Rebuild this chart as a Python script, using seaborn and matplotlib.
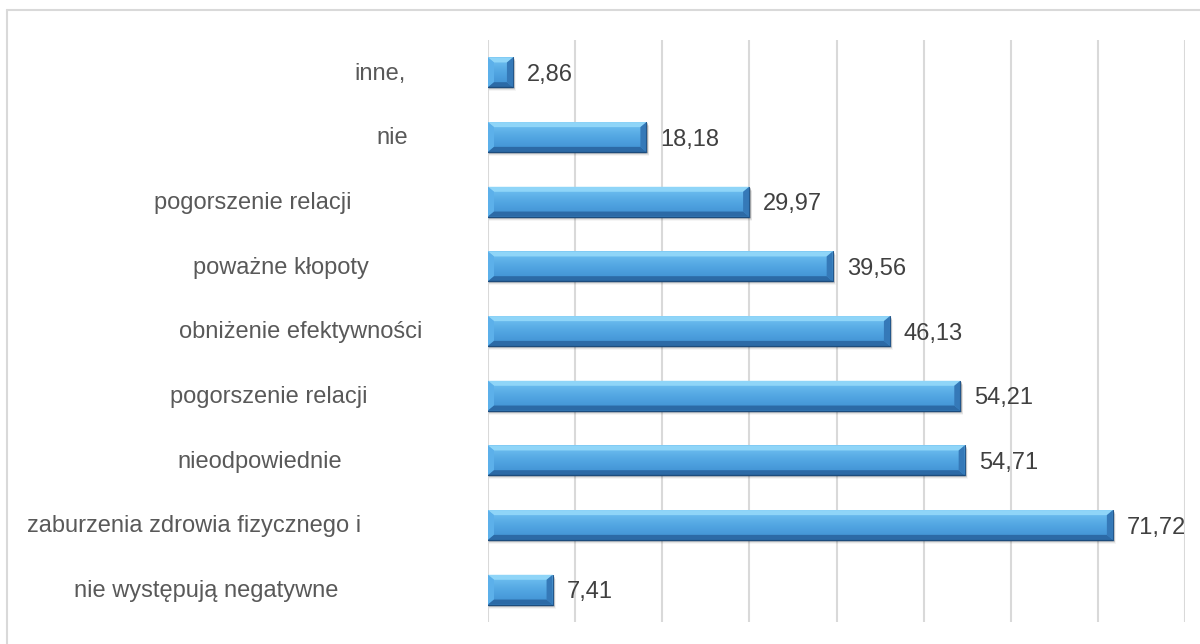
import numpy as np
import pandas as pd
import matplotlib
matplotlib.use("Agg")
import matplotlib.pyplot as plt
import matplotlib.transforms as mtransforms
from matplotlib.patches import Polygon, Rectangle
from matplotlib.lines import Line2D
import seaborn as sns

# Categories, top to bottom
categories = [
    "inne,",
    "nie",
    "pogorszenie relacji",
    "poważne kłopoty",
    "obniżenie efektywności",
    "pogorszenie relacji",
    "nieodpowiednie",
    "zaburzenia zdrowia fizycznego i",
    "nie występują negatywne",
]
values = [2.86, 18.18, 29.97, 39.56, 46.13, 54.21, 54.71, 71.72, 7.41]
value_labels = ["2,86", "18,18", "29,97", "39,56", "46,13", "54,21", "54,71", "71,72", "7,41"]

# Horizontal centres (figure pixels) of the category labels
label_centres_px = [380, 392, 253, 281, 301, 269, 260, 194, 206]

W, H = 1200, 644
sns.set_theme(style="white")
plt.rcParams["font.family"] = ["Liberation Sans", "DejaVu Sans"]

fig = plt.figure(figsize=(W / 100, H / 100), dpi=100)
fig.patch.set_facecolor("white")
ax = fig.add_axes([488 / W, 1 - 622 / H, 697 / W, 582 / H])

df = pd.DataFrame({"pos": list(range(len(categories))), "value": values})
sns.barplot(data=df, x="value", y="pos", orient="h", color="#4a9fdc",
            width=0.46, ax=ax, saturation=1, linewidth=0, zorder=3)

ax.set_xlim(0, 80)
ax.set_ylim(len(categories) - 0.5, -0.5)
ax.set_xticks(np.arange(0, 81, 10))
ax.set_xticklabels([])
ax.set_yticks([])
ax.set_xlabel("")
ax.set_ylabel("")
for s in ax.spines.values():
    s.set_visible(False)
ax.grid(False)
for gx in np.arange(0, 81, 10):
    ax.axvline(gx, color="#d9d9d9", lw=1.5, zorder=1)
ax.tick_params(length=0)

# px -> data conversion for bevel sizes
px_x = 80 / 697
px_y = len(categories) / 582
bx = 6 * px_x
by = 5 * px_y

grad = np.linspace(0, 1, 64).reshape(-1, 1)
cmap = matplotlib.colors.LinearSegmentedColormap.from_list(
    "face", ["#72c2f2", "#52a6e2", "#3f8fd2"])

for p in list(ax.patches):
    x0, y0, w, h = p.get_x(), p.get_y(), p.get_width(), p.get_height()
    x1 = x0 + w
    ytop, ybot = y0, y0 + h
    # soft shadow under the bar
    for k, a in zip(range(1, 5), [0.16, 0.11, 0.07, 0.04]):
        ax.add_patch(Rectangle((x0 + 1 * px_x, ytop + k * px_y), w + k * 0.5 * px_x, h,
                               facecolor="#000000", alpha=a, lw=0, zorder=2))
    # face gradient
    im = ax.imshow(grad, extent=(x0, x1, ybot, ytop), cmap=cmap, aspect="auto",
                   zorder=4, interpolation="bilinear")
    im.set_clip_path(p)
    # bevels
    ax.add_patch(Polygon([(x0, ytop), (x1, ytop), (x1 - bx, ytop + by), (x0 + bx, ytop + by)],
                         closed=True, facecolor="#8fd5f8", lw=0, zorder=5))
    ax.add_patch(Polygon([(x0, ytop), (x0, ybot), (x0 + bx, ybot - by), (x0 + bx, ytop + by)],
                         closed=True, facecolor="#5cb0ea", lw=0, zorder=5))
    ax.add_patch(Polygon([(x0, ybot), (x1, ybot), (x1 - bx, ybot - by), (x0 + bx, ybot - by)],
                         closed=True, facecolor="#2c6aa6", lw=0, zorder=5))
    ax.add_patch(Polygon([(x1, ytop), (x1, ybot), (x1 - bx, ybot - by), (x1 - bx, ytop + by)],
                         closed=True, facecolor="#3579b8", lw=0, zorder=5))
    ax.add_line(Line2D([x0, x1], [ybot, ybot], color="#1d4c7c", lw=1.0, zorder=6))
    ax.add_line(Line2D([x1, x1], [ytop, ybot], color="#23578b", lw=0.8, zorder=6))

# value labels
for i, (v, lab) in enumerate(zip(values, value_labels)):
    ax.text(v + 14 * px_x, i + 0.04, lab, ha="left", va="center",
            fontsize=17, color="#404040", zorder=7)

# category labels
trans = mtransforms.blended_transform_factory(fig.transFigure, ax.transData)
for i, (cat, cx) in enumerate(zip(categories, label_centres_px)):
    ax.text(cx / W, i + 0.02, cat, transform=trans, ha="center", va="center",
            fontsize=17, color="#595959", clip_on=False)

# outer chart frame
fig.add_artist(Line2D([7 / W, 1], [1 - 10 / H, 1 - 10 / H], color="#d9d9d9", lw=1.5,
                      transform=fig.transFigure))
fig.add_artist(Line2D([7 / W, 7 / W], [0, 1 - 10 / H], color="#d9d9d9", lw=1.5,
                      transform=fig.transFigure))

fig.savefig("out.png", dpi=100, facecolor="white")
